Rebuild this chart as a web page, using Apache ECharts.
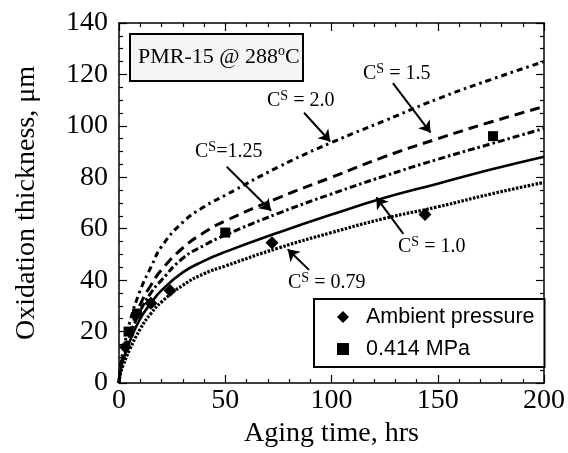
<!DOCTYPE html>
<html>
<head>
<meta charset="utf-8">
<script src="https://cdn.jsdelivr.net/npm/echarts@6/dist/echarts.min.js"></script>
<style>html,body{margin:0;padding:0;background:#fff}#c{width:568px;height:453px}</style>
</head>
<body>
<div id="c"></div>
<script>
// ---- data ----
const times  = [0, 1, 2, 5, 10, 15, 20, 30, 40, 50, 75, 100, 125, 150, 175, 200];
const cs079  = [0, 5, 7, 13, 21, 27, 31.5, 38, 42.5, 45.5, 52.5, 58.5, 64, 68.5, 73.5, 78];
const cs100  = [0, 6, 9, 16, 25, 31, 36, 43, 47.5, 51, 58.5, 65.5, 72, 77.5, 83, 88];
const cs125  = [0, 7, 10, 18, 28, 35, 40, 48.5, 53.5, 57.5, 66, 73.5, 80.5, 87, 93, 99];
const cs150  = [0, 7.5, 11, 19.5, 30.5, 38, 44, 52.5, 58.5, 63, 72, 80, 88, 95, 101.5, 107.5];
const cs200  = [0, 8.5, 12.5, 23.5, 36, 45, 53, 62.5, 68.5, 73, 84, 93.5, 102, 110.5, 118, 125];
const ambientT  = [3, 15, 24, 72, 144];
const ambientV  = [14, 31, 36, 54.5, 65.5];
const pressureT = [4.5, 8.5, 50, 176];
const pressureV = [20, 27, 58.5, 96];
const xTicks = [0, 50, 100, 150, 200];
const yTicks = [0, 20, 40, 60, 80, 100, 120, 140];
const curveNames = ['C=0.79', 'C=1.0', 'C=1.25', 'C=1.5', 'C=2.0'];
// annotation arrows (tail -> tip) in data units
const arrows = [
  [[128.9, 116.6], [146.6, 97.4]],
  [[87.1, 105.1], [99.4, 93.9]],
  [[50.7, 84.1], [71.6, 67.0]],
  [[133.8, 58.0], [121.1, 72.2]],
  [[89.4, 44.0], [79.4, 52.0]]
];
const annLabels = ['1.5', '2.0', '1.25', '1.0', '0.79'];

const zip = (a, b) => a.map((v, i) => [v, b[i]]);
const serif = 'Liberation Serif';
const chart = echarts.init(document.getElementById('c'), null, {renderer: 'canvas'});

function lineSeries(name, vals, type, width) {
  return {
    name: name, type: 'line', data: zip(times, vals), showSymbol: false, symbol: 'none',
    smooth: 0.5, silent: true,
    lineStyle: {color: '#000', width: width, type: type}, z: 3
  };
}

const axisCommon = {
  type: 'value',
  axisLine: {show: true, onZero: false, lineStyle: {color: '#000', width: 1.5}},
  axisTick: {show: true, inside: true, length: 8, lineStyle: {color: '#000', width: 1.2}},
  minorTick: {show: true, length: 4, lineStyle: {color: '#000', width: 1.2}},
  splitLine: {show: false}
};

const annText = (left, top, txt) => ({
  type: 'text', left: left, top: top, z: 100,
  style: {
    text: '{c|C}{s|S}{c|' + txt + '}',
    rich: {
      c: {fontFamily: serif, fontSize: 20, lineHeight: 22, fill: '#000', verticalAlign: 'bottom'},
      s: {fontFamily: serif, fontSize: 14, lineHeight: 22, fill: '#000', verticalAlign: 'top'}
    }
  }
});

const option = {
  animation: false,
  backgroundColor: '#fff',
  grid: {left: 119, right: 18, top: 23, bottom: 70},
  xAxis: [
    Object.assign({}, axisCommon, {
      min: 0, max: 200, interval: 50,
      minorTick: Object.assign({}, axisCommon.minorTick, {splitNumber: 5}),
      name: 'Aging time, hrs', nameLocation: 'middle', nameGap: 36,
      nameTextStyle: {fontFamily: serif, fontSize: 28, color: '#000'},
      axisLabel: {fontFamily: serif, fontSize: 28, color: '#000', margin: 4,
        formatter: v => xTicks.includes(v) ? String(v) : ''}
    }),
    Object.assign({}, axisCommon, {
      position: 'top', min: 0, max: 200, interval: 50,
      minorTick: Object.assign({}, axisCommon.minorTick, {splitNumber: 5}),
      axisLabel: {show: false}
    })
  ],
  yAxis: [
    Object.assign({}, axisCommon, {
      min: 0, max: 140, interval: 20,
      minorTick: Object.assign({}, axisCommon.minorTick, {splitNumber: 4}),
      name: 'Oxidation thickness, μm', nameLocation: 'middle', nameGap: 78,
      nameTextStyle: {fontFamily: serif, fontSize: 28, color: '#000'},
      axisLabel: {fontFamily: serif, fontSize: 28, color: '#000', margin: 11,
        formatter: v => yTicks.includes(v) ? String(v) : ''}
    }),
    Object.assign({}, axisCommon, {
      position: 'right', min: 0, max: 140, interval: 20,
      minorTick: Object.assign({}, axisCommon.minorTick, {splitNumber: 4}),
      axisLabel: {show: false}
    })
  ],
  legend: {
    data: [
      {name: 'Ambient pressure', icon: 'diamond'},
      {name: '0.414 MPa', icon: 'rect'}
    ],
    orient: 'vertical', left: 314, top: 299,
    backgroundColor: '#fff', borderColor: '#000', borderWidth: 2,
    padding: [7, 10, 7, 23], itemGap: 10, itemWidth: 12, itemHeight: 12,
    itemStyle: {color: '#000', opacity: 1},
    textStyle: {fontFamily: 'Liberation Sans', fontSize: 21.5, color: '#000', padding: [0, 0, 0, 12]},
    selectedMode: false, z: 50
  },
  series: [
    lineSeries(curveNames[0], cs079, [2.5, 1.5], 3.2),
    lineSeries(curveNames[1], cs100, 'solid', 2.6),
    lineSeries(curveNames[2], cs125, [7, 3, 2.5, 3], 3),
    lineSeries(curveNames[3], cs150, [10, 6], 3),
    lineSeries(curveNames[4], cs200, [6, 4, 2.5, 4], 3),
    {
      name: 'Ambient pressure', type: 'scatter', data: zip(ambientT, ambientV),
      symbol: 'diamond', symbolSize: 13, itemStyle: {color: '#000', opacity: 1}, z: 5
    },
    {
      name: '0.414 MPa', type: 'scatter', data: zip(pressureT, pressureV),
      symbol: 'rect', symbolSize: 10, itemStyle: {color: '#000', opacity: 1}, z: 5
    },
    {
      type: 'lines', coordinateSystem: 'cartesian2d', silent: true, z: 6,
      symbol: ['none', 'arrow'], symbolSize: 11,
      lineStyle: {color: '#000', width: 2, opacity: 1},
      data: arrows.map(a => ({coords: a}))
    }
  ],
  graphic: [
    {
      type: 'rect', left: 129, top: 33, z: 90,
      shape: {width: 173, height: 47},
      style: {fill: '#f5f5f5', stroke: '#000', lineWidth: 2}
    },
    {
      type: 'text', left: 138, top: 44, z: 100,
      style: {
        text: '{a|PMR-15 @ 288}{o|o}{a|C}',
        rich: {
          a: {fontFamily: serif, fontSize: 22, lineHeight: 24, fill: '#000', verticalAlign: 'bottom'},
          o: {fontFamily: serif, fontSize: 14, lineHeight: 24, fill: '#000', verticalAlign: 'top'}
        }
      }
    },
    annText(363, 62, ' = ' + annLabels[0]),
    annText(267, 89, ' = ' + annLabels[1]),
    annText(195, 140, '=' + annLabels[2]),
    annText(398, 235, ' = ' + annLabels[3]),
    annText(288, 271, ' = ' + annLabels[4])
  ]
};
chart.setOption(option);
</script>
</body>
</html>
